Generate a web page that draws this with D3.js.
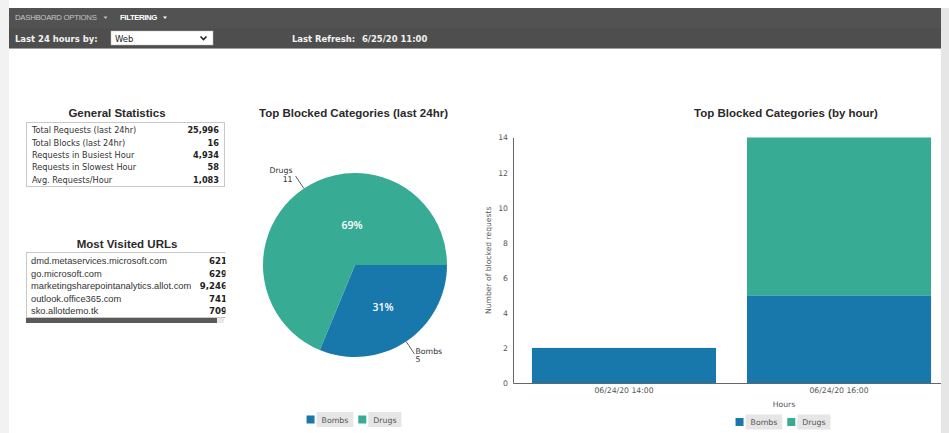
<!DOCTYPE html>
<html>
<head>
<meta charset="utf-8">
<script src="https://cdn.jsdelivr.net/npm/d3@7"></script>
<style>
  body { margin: 0; background: #fff; overflow: hidden; }
  svg { display: block; }
</style>
</head>
<body>
<div id="chart-area"></div>
<script>
// ---- data ----
const statLabels = ["Total Requests (last 24hr)", "Total Blocks (last 24hr)", "Requests in Busiest Hour",
  "Requests in Slowest Hour", "Avg. Requests/Hour"]
const statValues = ["25,996", "16", "4,934", "58", "1,083"]

const urlNames = ["dmd.metaservices.microsoft.com", "go.microsoft.com", "marketingsharepointanalytics.allot.com",
  "outlook.office365.com", "sko.allotdemo.tk"]
const urlHits = ["621", "629", "9,246", "741", "709"]

const categories = ["Bombs", "Drugs"]
const pieValues = [5, 11]

const hours = ["06/24/20 14:00", "06/24/20 16:00"]
const bombsByHour = [2, 5]
const drugsByHour = [0, 9]
const yTicks = [0, 2, 4, 6, 8, 10, 12, 14]

const COLORS = { Bombs: "#1877ab", Drugs: "#37ab93" }
const W = 949, H = 433

const svg = d3.select("#chart-area").append("svg")
  .attr("width", W)
  .attr("height", H)

// page frame
svg.append("rect").attr("width", W).attr("height", H).attr("fill", "#fff")
svg.append("rect").attr("x", 0).attr("y", 0).attr("width", 9).attr("height", H).attr("fill", "#f2f2f2")

// ---- header bar ----
const header = svg.append("g")
header.append("rect").attr("x", 9).attr("y", 8).attr("width", 932).attr("height", 20).attr("fill", "#525252")
header.append("rect").attr("x", 9).attr("y", 28).attr("width", 932).attr("height", 20).attr("fill", "#4e4e4e")
header.append("rect").attr("x", 9).attr("y", 48).attr("width", 932).attr("height", 1).attr("fill", "#a0a0a0")

function caret(x, y, color) {
  header.append("path")
    .attr("d", `M${x},${y} h4 l-2,2.5 z`)
    .attr("fill", color)
}

header.append("text")
  .attr("x", 15).attr("y", 20)
  .attr("font-family", "Liberation Sans, Arial, sans-serif")
  .attr("font-size", "7.8px").attr("letter-spacing", "-0.3px")
  .attr("fill", "#c4c4c4")
  .text("DASHBOARD OPTIONS")
caret(103.5, 16.5, "#c4c4c4")
header.append("text")
  .attr("x", 120).attr("y", 20)
  .attr("font-family", "Liberation Sans, Arial, sans-serif")
  .attr("font-size", "7.8px").attr("font-weight", "bold").attr("letter-spacing", "-0.4px")
  .attr("fill", "#fff")
  .text("FILTERING")
caret(163, 16.5, "#fff")

const hdrFont = "DejaVu Sans Condensed, Tahoma, sans-serif"
header.append("text")
  .attr("x", 15).attr("y", 41.5)
  .attr("font-family", hdrFont).attr("font-size", "9.4px").attr("font-weight", "bold")
  .attr("fill", "#f2f2f2")
  .text("Last 24 hours by:")
header.append("rect").attr("x", 111).attr("y", 31).attr("width", 102).attr("height", 14)
  .attr("fill", "#fff").attr("stroke", "#bbb").attr("stroke-width", 0.5)
header.append("text")
  .attr("x", 115).attr("y", 41.5)
  .attr("font-family", hdrFont).attr("font-size", "9.4px")
  .attr("fill", "#222")
  .text("Web")
header.append("path")
  .attr("d", "M200.5,36.5 l3,3 l3,-3")
  .attr("fill", "none").attr("stroke", "#222").attr("stroke-width", 1.6)
header.append("text")
  .attr("x", 292).attr("y", 41.5)
  .attr("font-family", hdrFont).attr("font-size", "9.4px").attr("font-weight", "bold")
  .attr("fill", "#f2f2f2")
  .text("Last Refresh:")
header.append("text")
  .attr("x", 362).attr("y", 41.5)
  .attr("font-family", hdrFont).attr("font-size", "9.4px").attr("font-weight", "bold")
  .attr("fill", "#f2f2f2")
  .text("6/25/20 11:00")

const titleFont = "Liberation Sans, Arial, sans-serif"
function title(x, y, txt) {
  svg.append("text")
    .attr("x", x).attr("y", y)
    .attr("text-anchor", "middle")
    .attr("font-family", titleFont).attr("font-size", "11.5px").attr("font-weight", "bold")
    .attr("fill", "#2a2a2a")
    .text(txt)
}

// ---- General Statistics table ----
title(117, 117, "General Statistics")
const stats = svg.append("g")
stats.append("rect").attr("x", 26.5).attr("y", 122.5).attr("width", 198).attr("height", 64)
  .attr("fill", "#fff").attr("stroke", "#c8c8c8")
const statRow = d3.scaleLinear().domain([0, 1]).range([133.2, 145.6])
stats.selectAll(".stat-label")
  .data(statLabels)
  .enter().append("text")
  .attr("class", "stat-label")
  .attr("x", 32).attr("y", (d, i) => statRow(i))
  .attr("font-family", hdrFont).attr("font-size", "9.1px")
  .attr("fill", "#333")
  .text(d => d)
stats.selectAll(".stat-value")
  .data(statValues)
  .enter().append("text")
  .attr("class", "stat-value")
  .attr("x", 219).attr("y", (d, i) => statRow(i))
  .attr("text-anchor", "end")
  .attr("font-family", hdrFont).attr("font-size", "9.1px").attr("font-weight", "bold")
  .attr("fill", "#222")
  .text(d => d)

// ---- Most Visited URLs table ----
title(127, 248, "Most Visited URLs")
const urls = svg.append("g")
urls.append("clipPath").attr("id", "url-clip")
  .append("rect").attr("x", 26).attr("y", 252).attr("width", 199.5).attr("height", 72)
const urlBody = urls.append("g").attr("clip-path", "url(#url-clip)")
urlBody.append("rect").attr("x", 26.5).attr("y", 252.5).attr("width", 205).attr("height", 65)
  .attr("fill", "#fff").attr("stroke", "#c8c8c8")
const urlRow = d3.scaleLinear().domain([0, 1]).range([264.4, 276.8])
urlBody.selectAll(".url-name")
  .data(urlNames)
  .enter().append("text")
  .attr("class", "url-name")
  .attr("x", 31).attr("y", (d, i) => urlRow(i))
  .attr("font-family", "Liberation Sans, Arial, sans-serif").attr("font-size", "9.3px")
  .attr("fill", "#333")
  .text(d => d)
urlBody.selectAll(".url-hits")
  .data(urlHits)
  .enter().append("text")
  .attr("class", "url-hits")
  .attr("x", 227).attr("y", (d, i) => urlRow(i))
  .attr("text-anchor", "end")
  .attr("font-family", "DejaVu Sans, Verdana, sans-serif").attr("font-size", "8.6px").attr("font-weight", "bold")
  .attr("fill", "#222")
  .text(d => d)
urls.append("rect").attr("x", 26).attr("y", 318).attr("width", 191).attr("height", 5).attr("fill", "#5a5a5a")
urls.append("rect").attr("x", 217).attr("y", 318).attr("width", 7).attr("height", 5).attr("fill", "#e8e8e8")

// ---- legend helper ----
const smallFont = "DejaVu Sans, Verdana, sans-serif"
function legend(cx, cy) {
  const lg = svg.append("g")
  let x = 0
  categories.forEach(c => {
    lg.append("rect").attr("x", x).attr("y", -4).attr("width", 8).attr("height", 8).attr("fill", COLORS[c])
    const box = lg.append("rect").attr("x", x + 10).attr("y", -7.5).attr("height", 15).attr("fill", "#e6e6e6")
    const t = lg.append("text")
      .attr("x", x + 15).attr("y", 3)
      .attr("font-family", smallFont).attr("font-size", "7.8px")
      .attr("fill", "#555")
      .text(c)
    const tw = t.node().getComputedTextLength()
    box.attr("width", tw + 10)
    x += 10 + tw + 10 + 5
  })
  x -= 5
  lg.attr("transform", `translate(${cx - x / 2}, ${cy})`)
}

// ---- pie: Top Blocked Categories (last 24hr) ----
title(353.5, 117, "Top Blocked Categories (last 24hr)")
const PIE = { cx: 355, cy: 265, r: 92 }
const pieG = svg.append("g").attr("transform", `translate(${PIE.cx}, ${PIE.cy})`)
const pieData = categories.map((c, i) => ({ name: c, value: pieValues[i] }))
const total = d3.sum(pieValues)
const pie = d3.pie().value(d => d.value).sort(null)
  .startAngle(Math.PI / 2).endAngle(Math.PI / 2 + 2 * Math.PI)
const arcs = pie(pieData)
const arc = d3.arc().innerRadius(0).outerRadius(PIE.r)
const labelArc = d3.arc().innerRadius(PIE.r * 0.55).outerRadius(PIE.r * 0.55)

pieG.selectAll("path.slice")
  .data(arcs)
  .enter().append("path")
  .attr("class", "slice")
  .attr("d", arc)
  .attr("fill", d => COLORS[d.data.name])

pieG.selectAll("text.pct")
  .data(arcs)
  .enter().append("text")
  .attr("class", "pct")
  .attr("transform", d => {
    const [x, y] = labelArc.centroid(d)
    // the big slice label sits near the top of the pie in the original
    return d.data.value / total > 0.5 ? `translate(${-3}, ${-40})` : `translate(${x}, ${y})`
  })
  .attr("text-anchor", "middle").attr("dy", "0.35em")
  .attr("font-family", "Open Sans, sans-serif").attr("font-size", "10.5px").attr("font-weight", 600)
  .attr("fill", "#fff")
  .text(d => Math.round(d.data.value / total * 100) + "%")

arcs.forEach(d => {
  const a = (d.startAngle + d.endAngle) / 2
  const p0 = [Math.sin(a) * PIE.r, -Math.cos(a) * PIE.r]
  const p1 = [Math.sin(a) * (PIE.r + 15), -Math.cos(a) * (PIE.r + 15)]
  pieG.append("line")
    .attr("x1", p0[0]).attr("y1", p0[1]).attr("x2", p1[0]).attr("y2", p1[1])
    .attr("stroke", "#333").attr("stroke-width", 0.8)
  const left = p1[0] < 0
  const up = p1[1] < 0
  const y1 = p1[1] + (up ? -3 : 0)
  const t = pieG.append("text")
    .attr("text-anchor", left ? "end" : "start")
    .attr("font-family", smallFont).attr("font-size", "7.8px")
    .attr("fill", "#333")
  t.append("tspan").attr("x", p1[0] + (left ? -3 : 1)).attr("y", y1).text(d.data.name)
  t.append("tspan").attr("x", p1[0] + (left ? -3 : 1)).attr("y", y1 + 8.5).text(d.data.value)
})

legend(354, 419.5)

// ---- stacked bars: Top Blocked Categories (by hour) ----
title(786, 117, "Top Blocked Categories (by hour)")
const barTable = hours.map((h, i) => ({ hour: h, Bombs: bombsByHour[i], Drugs: drugsByHour[i] }))
const series = d3.stack().keys(categories)(barTable)

const x = d3.scaleBand()
  .domain(hours)
  .range([513, 950])
  .paddingInner(0.144)
  .paddingOuter(0.088)
const y = d3.scaleLinear()
  .domain([0, d3.max(yTicks)])
  .range([383, 137.5])

const barG = svg.append("g")
barG.selectAll("g.series")
  .data(series)
  .enter().append("g")
  .attr("class", "series")
  .attr("fill", d => COLORS[d.key])
  .selectAll("rect")
  .data(d => d)
  .enter().append("rect")
  .attr("x", d => x(d.data.hour))
  .attr("y", d => y(d[1]))
  .attr("width", x.bandwidth())
  .attr("height", d => y(d[0]) - y(d[1]))

const axisFont = smallFont
const xAxisGroup = svg.append("g")
  .attr("transform", `translate(0, ${y(0)})`)
  .call(d3.axisBottom(x).tickSize(0).tickSizeOuter(0).tickPadding(5))
xAxisGroup.select(".domain").attr("stroke", "#666")
xAxisGroup.selectAll("text")
  .attr("font-family", axisFont).attr("font-size", "7.7px").attr("fill", "#555")

const yAxisGroup = svg.append("g")
  .attr("transform", `translate(${x.range()[0]}, 0)`)
  .call(d3.axisLeft(y).tickValues(yTicks).tickSize(0).tickSizeOuter(0).tickPadding(5))
yAxisGroup.select(".domain").attr("stroke", "#666")
yAxisGroup.selectAll("text")
  .attr("font-family", axisFont).attr("font-size", "7.7px").attr("fill", "#555")

svg.append("text")
  .attr("transform", `translate(490.5, ${(y.range()[0] + y.range()[1]) / 2}) rotate(-90)`)
  .attr("text-anchor", "middle")
  .attr("font-family", axisFont).attr("font-size", "7.6px").attr("fill", "#555")
  .text("Number of blocked requests")

svg.append("text")
  .attr("x", 784).attr("y", 406.5)
  .attr("text-anchor", "middle")
  .attr("font-family", axisFont).attr("font-size", "7.7px").attr("fill", "#555")
  .text("Hours")

legend(783, 422)

// right scroll strip, drawn last so it trims the chart like the page does
svg.append("rect").attr("x", 941).attr("y", 8).attr("width", 8).attr("height", H).attr("fill", "#e6e6e6")
</script>
</body>
</html>
